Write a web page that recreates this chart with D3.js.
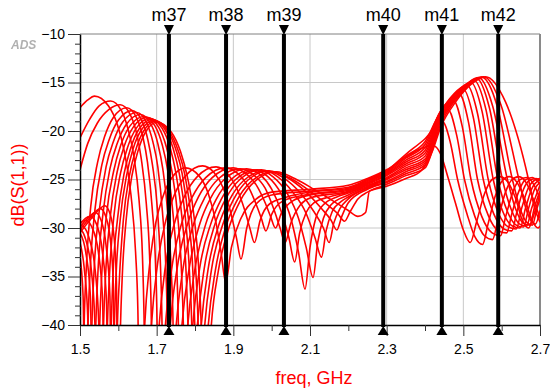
<!doctype html>
<html>
<head>
<meta charset="utf-8">
<title>S11 sweep</title>
<script src="https://d3js.org/d3.v7.min.js"></script>
<style>
  body { margin: 0; background: #fff; }
  text { font-family: "Liberation Sans", Arial, sans-serif; }
</style>
</head>
<body>
<svg width="550" height="389"></svg>
<script>
// axis ticks
var xTicks = [1.5, 1.7, 1.9, 2.1, 2.3, 2.5, 2.7];
var xMinor = [1.6, 1.8, 2.0, 2.2, 2.4, 2.6];
var yTicks = [-10, -15, -20, -25, -30, -35, -40];

// markers
var markerNames = ["m37", "m38", "m39", "m40", "m41", "m42"];
var markerFreqs = [1.732, 1.881, 2.032, 2.291, 2.444, 2.591];

// sweep curves, [freq GHz, dB(S11)]
var s00 = [[1.5,-17.6],[1.52,-16.8],[1.538,-16.4],[1.574,-17.4],[1.598,-19.4],[1.615,-22.0],[1.633,-26.6],[1.645,-32.5],[1.651,-38.5],[1.657,-55],[1.663,-45.9],[1.669,-39.9],[1.681,-34.0],[1.698,-29.4],[1.716,-26.8],[1.74,-24.8],[1.775,-23.8],[1.81,-24.6],[1.835,-26.5],[1.855,-29.5],[1.868,-32.5],[1.88,-35.6],[1.895,-32.0],[1.92,-29.0],[1.96,-27.0],[2.0,-26.3],[2.1,-26.0],[2.2,-25.6],[2.25,-24.9],[2.3,-24.0],[2.35,-22.7],[2.39,-21.8],[2.42,-21.5],[2.44,-22.3],[2.46,-24.8],[2.48,-27.5],[2.5,-30.2],[2.518,-31.5],[2.535,-29.3],[2.555,-26.5],[2.575,-25.0],[2.595,-24.7],[2.615,-25.2],[2.635,-26.8],[2.655,-29.3],[2.67,-30.0],[2.685,-28.5],[2.7,-26.5]];
var s01 = [[1.5,-20.7],[1.525,-18.8],[1.55,-17.4],[1.58,-16.9],[1.608,-17.9],[1.626,-19.9],[1.64,-22.5],[1.654,-27.1],[1.663,-33.0],[1.667,-39.0],[1.672,-55],[1.679,-45.7],[1.687,-39.7],[1.702,-33.8],[1.724,-29.2],[1.746,-26.6],[1.776,-24.6],[1.82,-23.6],[1.85,-24.3],[1.875,-26.0],[1.895,-28.7],[1.908,-31.0],[1.92,-33.2],[1.935,-30.0],[1.96,-27.5],[2.0,-26.6],[2.1,-26.2],[2.2,-25.8],[2.25,-25.0],[2.3,-24.1],[2.35,-22.4],[2.4,-20.8],[2.445,-19.0],[2.465,-21.0],[2.485,-25.0],[2.51,-28.6],[2.53,-30.9],[2.55,-31.7],[2.565,-29.5],[2.585,-26.5],[2.6,-25.2],[2.62,-24.7],[2.64,-25.3],[2.66,-27.0],[2.68,-29.3],[2.695,-30.0],[2.7,-29.8]];
var s02 = [[1.5,-24.0],[1.52,-21.3],[1.545,-19.2],[1.575,-17.8],[1.605,-17.3],[1.631,-18.3],[1.648,-20.3],[1.66,-22.9],[1.673,-27.5],[1.682,-33.4],[1.686,-39.4],[1.69,-55],[1.698,-45.8],[1.707,-39.8],[1.723,-33.9],[1.748,-29.3],[1.773,-26.7],[1.806,-24.7],[1.855,-23.7],[1.885,-24.4],[1.91,-26.0],[1.93,-28.2],[1.943,-30.0],[1.955,-31.5],[1.97,-29.2],[1.995,-27.5],[2.04,-26.8],[2.1,-26.3],[2.2,-25.9],[2.25,-25.1],[2.3,-24.2],[2.35,-22.6],[2.4,-21.1],[2.44,-18.2],[2.46,-17.8],[2.483,-20.5],[2.503,-25.0],[2.53,-28.8],[2.555,-30.8],[2.576,-31.2],[2.59,-29.2],[2.61,-26.3],[2.625,-25.1],[2.645,-24.7],[2.665,-25.4],[2.685,-27.3],[2.7,-29.0]];
var s03 = [[1.5,-36.0],[1.505,-55],[1.511,-39.7],[1.517,-33.7],[1.528,-27.8],[1.546,-23.2],[1.564,-20.6],[1.587,-18.6],[1.622,-17.6],[1.647,-18.6],[1.664,-20.6],[1.676,-23.2],[1.688,-27.8],[1.697,-33.7],[1.701,-39.7],[1.705,-55],[1.714,-45.9],[1.723,-39.9],[1.74,-34.0],[1.766,-29.4],[1.793,-26.8],[1.828,-24.8],[1.88,-23.8],[1.912,-24.4],[1.94,-25.8],[1.96,-27.6],[1.973,-29.0],[1.985,-30.3],[2.0,-28.6],[2.03,-27.2],[2.1,-26.5],[2.2,-26.0],[2.25,-25.2],[2.3,-24.3],[2.35,-22.8],[2.4,-21.4],[2.44,-18.0],[2.475,-16.9],[2.497,-19.5],[2.52,-25.0],[2.548,-28.8],[2.575,-30.5],[2.597,-30.8],[2.61,-28.9],[2.63,-26.2],[2.645,-25.1],[2.665,-24.8],[2.685,-25.6],[2.7,-27.0]];
var s04 = [[1.5,-33.0],[1.508,-37.0],[1.515,-55],[1.521,-40.0],[1.527,-34.0],[1.539,-28.1],[1.557,-23.5],[1.576,-20.9],[1.6,-18.9],[1.636,-17.9],[1.661,-18.9],[1.677,-20.9],[1.689,-23.5],[1.702,-28.1],[1.71,-34.0],[1.714,-40.0],[1.718,-55],[1.727,-45.9],[1.736,-39.9],[1.754,-34.0],[1.782,-29.4],[1.809,-26.8],[1.845,-24.8],[1.9,-23.8],[1.933,-24.4],[1.962,-25.7],[1.983,-27.4],[1.997,-28.8],[2.01,-30.0],[2.025,-28.5],[2.055,-27.2],[2.1,-26.6],[2.2,-26.1],[2.25,-25.3],[2.3,-24.4],[2.35,-23.0],[2.4,-21.7],[2.44,-18.0],[2.465,-16.8],[2.49,-16.2],[2.513,-19.0],[2.537,-25.0],[2.565,-28.7],[2.592,-30.3],[2.613,-30.5],[2.626,-28.6],[2.645,-26.2],[2.66,-25.1],[2.68,-24.8],[2.7,-25.5]];
var s05 = [[1.5,-31.5],[1.512,-34.5],[1.52,-39.0],[1.525,-55],[1.531,-40.2],[1.537,-34.2],[1.55,-28.3],[1.568,-23.7],[1.587,-21.1],[1.611,-19.1],[1.648,-18.1],[1.673,-19.1],[1.69,-21.1],[1.703,-23.7],[1.715,-28.3],[1.724,-34.2],[1.728,-40.2],[1.732,-55],[1.741,-46.0],[1.751,-40.0],[1.769,-34.1],[1.797,-29.5],[1.825,-26.9],[1.862,-24.9],[1.918,-23.9],[1.952,-24.5],[1.983,-25.9],[2.005,-28.0],[2.022,-30.0],[2.035,-31.5],[2.05,-29.5],[2.075,-27.6],[2.1,-26.9],[2.2,-26.2],[2.25,-25.4],[2.3,-24.5],[2.35,-23.2],[2.4,-22.0],[2.44,-18.1],[2.47,-16.5],[2.5,-15.7],[2.526,-18.6],[2.552,-25.0],[2.58,-28.6],[2.606,-30.1],[2.626,-30.3],[2.64,-28.3],[2.657,-26.0],[2.672,-25.1],[2.69,-24.9],[2.7,-25.1]];
var s06 = [[1.5,-30.5],[1.515,-32.5],[1.527,-37.0],[1.535,-55],[1.541,-40.4],[1.547,-34.4],[1.56,-28.5],[1.578,-23.9],[1.597,-21.3],[1.621,-19.3],[1.658,-18.3],[1.685,-19.3],[1.703,-21.3],[1.716,-23.9],[1.729,-28.5],[1.738,-34.4],[1.743,-40.4],[1.747,-55],[1.756,-46.0],[1.766,-40.0],[1.785,-34.1],[1.813,-29.5],[1.841,-26.9],[1.879,-24.9],[1.935,-23.9],[1.97,-24.5],[2.0,-26.0],[2.025,-28.3],[2.045,-31.0],[2.06,-33.5],[2.073,-30.5],[2.09,-28.4],[2.11,-27.4],[2.15,-26.8],[2.2,-26.3],[2.25,-25.5],[2.3,-24.6],[2.35,-23.4],[2.4,-22.3],[2.44,-18.2],[2.475,-16.2],[2.51,-15.3],[2.537,-18.2],[2.565,-25.0],[2.592,-28.5],[2.618,-29.9],[2.638,-30.1],[2.652,-28.0],[2.668,-26.0],[2.685,-25.1],[2.7,-24.9]];
var s07 = [[1.5,-30.0],[1.515,-31.2],[1.53,-34.5],[1.539,-40.0],[1.545,-55],[1.551,-40.6],[1.557,-34.6],[1.569,-28.7],[1.588,-24.1],[1.606,-21.5],[1.63,-19.5],[1.667,-18.5],[1.696,-19.5],[1.715,-21.5],[1.729,-24.1],[1.743,-28.7],[1.753,-34.6],[1.757,-40.6],[1.762,-55],[1.771,-46.1],[1.781,-40.1],[1.8,-34.2],[1.828,-29.6],[1.856,-27.0],[1.894,-25.0],[1.95,-24.0],[1.99,-24.7],[2.025,-26.5],[2.05,-29.0],[2.07,-32.5],[2.087,-36.3],[2.1,-32.0],[2.115,-29.0],[2.135,-27.6],[2.17,-26.8],[2.2,-26.4],[2.25,-25.6],[2.3,-24.8],[2.35,-23.6],[2.4,-22.6],[2.44,-18.3],[2.48,-16.1],[2.52,-15.0],[2.549,-18.0],[2.578,-25.0],[2.604,-28.4],[2.628,-29.8],[2.648,-30.0],[2.662,-28.0],[2.678,-26.0],[2.7,-25.0]];
var s08 = [[1.5,-29.7],[1.51,-29.9],[1.525,-31.2],[1.54,-34.5],[1.549,-40.0],[1.555,-55],[1.561,-40.7],[1.567,-34.7],[1.579,-28.8],[1.597,-24.2],[1.615,-21.6],[1.639,-19.6],[1.675,-18.6],[1.705,-19.6],[1.725,-21.6],[1.74,-24.2],[1.755,-28.8],[1.765,-34.7],[1.77,-40.7],[1.775,-55],[1.784,-46.1],[1.794,-40.1],[1.812,-34.2],[1.841,-29.6],[1.869,-27.0],[1.906,-25.0],[1.962,-24.0],[2.003,-24.7],[2.04,-26.4],[2.07,-29.0],[2.09,-32.0],[2.108,-35.1],[2.12,-31.5],[2.135,-29.0],[2.155,-27.6],[2.2,-26.6],[2.25,-25.7],[2.3,-24.9],[2.35,-23.8],[2.4,-22.9],[2.44,-18.5],[2.485,-16.1],[2.528,-14.8],[2.559,-17.8],[2.59,-25.0],[2.615,-28.3],[2.638,-29.7],[2.657,-29.9],[2.67,-28.0],[2.686,-26.0],[2.7,-25.3]];
var s09 = [[1.5,-29.5],[1.515,-29.2],[1.532,-30.0],[1.548,-32.5],[1.559,-37.5],[1.565,-55],[1.571,-40.8],[1.577,-34.8],[1.588,-28.9],[1.606,-24.3],[1.624,-21.7],[1.647,-19.7],[1.682,-18.7],[1.714,-19.7],[1.735,-21.7],[1.75,-24.3],[1.766,-28.9],[1.777,-34.8],[1.782,-40.8],[1.787,-55],[1.796,-46.1],[1.806,-40.1],[1.824,-34.2],[1.852,-29.6],[1.88,-27.0],[1.917,-25.0],[1.973,-24.0],[2.015,-24.7],[2.055,-26.3],[2.09,-28.5],[2.113,-31.0],[2.13,-33.0],[2.142,-30.3],[2.158,-28.3],[2.18,-27.3],[2.2,-26.8],[2.25,-25.8],[2.3,-25.0],[2.35,-24.0],[2.4,-23.1],[2.44,-18.7],[2.49,-16.0],[2.535,-14.6],[2.568,-17.6],[2.602,-25.0],[2.626,-28.2],[2.647,-29.6],[2.665,-29.8],[2.678,-28.0],[2.7,-25.6]];
var s10 = [[1.5,-29.6],[1.514,-29.0],[1.527,-28.8],[1.543,-29.6],[1.558,-32.3],[1.569,-37.5],[1.575,-55],[1.581,-40.9],[1.586,-34.9],[1.598,-29.0],[1.615,-24.4],[1.632,-21.8],[1.654,-19.8],[1.688,-18.8],[1.721,-19.8],[1.743,-21.8],[1.759,-24.4],[1.775,-29.0],[1.786,-34.9],[1.792,-40.9],[1.797,-55],[1.806,-46.2],[1.816,-40.2],[1.834,-34.3],[1.862,-29.7],[1.89,-27.1],[1.927,-25.1],[1.983,-24.1],[2.03,-24.8],[2.075,-26.4],[2.11,-28.3],[2.135,-30.0],[2.15,-31.5],[2.162,-29.5],[2.178,-28.0],[2.2,-27.0],[2.25,-25.9],[2.3,-25.2],[2.35,-24.2],[2.4,-23.3],[2.44,-18.9],[2.49,-16.1],[2.54,-14.5],[2.577,-17.5],[2.615,-25.0],[2.637,-28.1],[2.656,-29.5],[2.673,-29.7],[2.686,-27.8],[2.7,-26.2]];
var s11 = [[1.5,-29.9],[1.52,-29.0],[1.54,-28.4],[1.555,-29.2],[1.568,-31.8],[1.578,-37.0],[1.583,-55],[1.589,-41.0],[1.594,-35.0],[1.605,-29.1],[1.622,-24.5],[1.638,-21.9],[1.66,-19.9],[1.693,-18.9],[1.727,-19.9],[1.75,-21.9],[1.767,-24.5],[1.783,-29.1],[1.795,-35.0],[1.8,-41.0],[1.806,-55],[1.815,-46.2],[1.825,-40.2],[1.843,-34.3],[1.872,-29.7],[1.9,-27.1],[1.937,-25.1],[1.993,-24.1],[2.04,-24.8],[2.09,-26.3],[2.13,-28.0],[2.155,-29.2],[2.17,-30.2],[2.183,-28.8],[2.2,-27.4],[2.25,-26.0],[2.3,-25.3],[2.35,-24.4],[2.4,-23.5],[2.44,-19.1],[2.495,-16.0],[2.548,-14.45],[2.588,-17.4],[2.628,-25.0],[2.648,-28.0],[2.665,-29.4],[2.68,-29.7],[2.692,-28.0],[2.7,-27.0]];
var s12 = [[1.5,-30.2],[1.525,-29.0],[1.553,-28.0],[1.568,-28.9],[1.58,-31.5],[1.587,-36.0],[1.592,-55],[1.597,-41.1],[1.603,-35.1],[1.613,-29.2],[1.629,-24.6],[1.645,-22.0],[1.666,-20.0],[1.697,-19.0],[1.732,-20.0],[1.756,-22.0],[1.774,-24.6],[1.791,-29.2],[1.803,-35.1],[1.809,-41.1],[1.815,-55],[1.824,-46.3],[1.834,-40.3],[1.853,-34.4],[1.881,-29.8],[1.909,-27.2],[1.947,-25.2],[2.003,-24.2],[2.05,-24.9],[2.1,-26.2],[2.145,-27.6],[2.172,-28.5],[2.19,-29.3],[2.205,-28.3],[2.225,-27.0],[2.25,-26.3],[2.3,-25.5],[2.35,-24.6],[2.4,-23.8],[2.44,-19.4],[2.5,-15.9],[2.553,-14.4],[2.598,-17.3],[2.645,-25.0],[2.662,-27.8],[2.676,-29.2],[2.688,-29.6],[2.7,-28.2]];
var s13 = [[1.5,-30.5],[1.53,-29.0],[1.565,-27.7],[1.578,-28.5],[1.589,-31.0],[1.595,-35.5],[1.6,-55],[1.605,-41.2],[1.61,-35.2],[1.62,-29.3],[1.635,-24.7],[1.651,-22.1],[1.671,-20.1],[1.701,-19.1],[1.738,-20.1],[1.762,-22.1],[1.78,-24.7],[1.799,-29.3],[1.811,-35.2],[1.817,-41.2],[1.823,-55],[1.833,-46.3],[1.842,-40.3],[1.861,-34.4],[1.89,-29.8],[1.918,-27.2],[1.956,-25.2],[2.013,-24.2],[2.06,-24.9],[2.11,-26.0],[2.16,-27.2],[2.2,-28.2],[2.225,-28.8],[2.245,-28.4],[2.255,-26.2],[2.3,-25.7],[2.35,-24.9],[2.39,-24.1],[2.42,-22.0],[2.44,-19.7],[2.48,-17.0],[2.52,-15.2],[2.558,-14.4],[2.61,-17.0],[2.67,-25.0],[2.685,-27.8],[2.7,-29.4]];
var sweeps = [s00, s01, s02, s03, s04, s05, s06, s07, s08, s09, s10, s11, s12, s13];

var svg = d3.select("svg");
var L = 80, R = 540, T = 34, B = 325;

var x = d3.scaleLinear().domain([1.5, 2.7]).range([L, R]);
var y = d3.scaleLinear().domain([-10, -40]).range([T, B]);

// ADS logo
svg.append("defs").append("filter").attr("id", "soft")
    .append("feGaussianBlur").attr("stdDeviation", 0.7);
svg.append("text")
    .attr("x", 11).attr("y", 49)
    .attr("font-size", 12).attr("font-weight", "bold").attr("font-style", "italic")
    .attr("fill", "#b0b0b0").attr("filter", "url(#soft)")
    .text("ADS");

// grid
var grid = svg.append("g").attr("stroke", "#c8c8c8").attr("stroke-width", 1);
grid.selectAll(".gx").data(xTicks.slice(1, -1)).enter().append("line")
    .attr("x1", d => x(d)).attr("x2", d => x(d)).attr("y1", T).attr("y2", B);
grid.selectAll(".gy").data(yTicks.slice(1, -1)).enter().append("line")
    .attr("x1", L).attr("x2", R).attr("y1", d => y(d)).attr("y2", d => y(d));

// frame top / right
svg.append("line").attr("x1", L).attr("x2", R).attr("y1", T).attr("y2", T)
    .attr("stroke", "#808080").attr("stroke-width", 1);
svg.append("line").attr("x1", R).attr("x2", R).attr("y1", T).attr("y2", B)
    .attr("stroke", "#8a8a8a").attr("stroke-width", 2);

// curves
svg.append("clipPath").attr("id", "plotclip").append("rect")
    .attr("x", L).attr("y", T).attr("width", R - L).attr("height", B - T);

var line = d3.line()
    .x(d => x(d[0]))
    .y(d => y(d[1]))
    .curve(d3.curveMonotoneX);

svg.append("g").attr("clip-path", "url(#plotclip)")
    .selectAll("path").data(sweeps).enter().append("path")
    .attr("d", line)
    .attr("fill", "none")
    .attr("stroke", "#ff0000")
    .attr("stroke-width", 1.6);

// axes
var xAxis = svg.append("g").attr("transform", "translate(0," + B + ")")
    .call(d3.axisBottom(x).tickValues(xTicks).tickSize(11).tickSizeOuter(0).tickFormat(d3.format(".1f")));
svg.append("g").attr("transform", "translate(0," + B + ")")
    .call(d3.axisBottom(x).tickValues(xMinor).tickSize(6).tickSizeOuter(0).tickFormat(""))
    .select(".domain").remove();

var yMinor = d3.range(-39, -10, 1).filter(d => d % 5 !== 0);
svg.append("g").attr("transform", "translate(" + L + ",0)")
    .call(d3.axisLeft(y).tickValues(yTicks).tickSize(12).tickSizeOuter(0).tickFormat(d3.format("d")));
svg.append("g").attr("transform", "translate(" + (L + 1) + ",0)")
    .call(d3.axisLeft(y).tickValues(yMinor).tickSize(6).tickFormat(""))
    .select(".domain").remove();

svg.selectAll(".tick text").attr("font-size", 14).attr("fill", "#000")
    .attr("font-family", "'Liberation Sans', Arial, sans-serif");
svg.selectAll(".domain").attr("stroke", "#000").attr("stroke-width", 1.5);
svg.selectAll(".tick line").attr("stroke", "#333");
xAxis.selectAll(".tick text").attr("dy", "1.05em");

// markers
var mk = svg.append("g").selectAll("g").data(markerFreqs).enter().append("g");
mk.append("line")
    .attr("x1", d => x(d)).attr("x2", d => x(d))
    .attr("y1", T).attr("y2", B + 2)
    .attr("stroke", "#000").attr("stroke-width", 4);
mk.append("path")
    .attr("d", d => "M" + (x(d) - 5) + "," + (T - 9) + "L" + (x(d) + 5) + "," + (T - 9) + "L" + x(d) + "," + (T + 1) + "Z")
    .attr("fill", "#000");
mk.append("path")
    .attr("d", d => "M" + (x(d) - 5.5) + "," + (B + 10) + "L" + (x(d) + 5.5) + "," + (B + 10) + "L" + x(d) + "," + (B + 1) + "Z")
    .attr("fill", "#000");
mk.append("text")
    .attr("x", d => x(d)).attr("y", 21)
    .attr("text-anchor", "middle").attr("font-size", 18).attr("fill", "#000")
    .text((d, i) => markerNames[i]);

// axis titles
svg.append("text")
    .attr("transform", "translate(24,185) rotate(-90)")
    .attr("text-anchor", "middle").attr("font-size", 18).attr("fill", "#ff0000")
    .text("dB(S(1,1))");
svg.append("text")
    .attr("x", 314).attr("y", 384)
    .attr("text-anchor", "middle").attr("font-size", 18).attr("fill", "#ff0000")
    .text("freq, GHz");
</script>
</body>
</html>
